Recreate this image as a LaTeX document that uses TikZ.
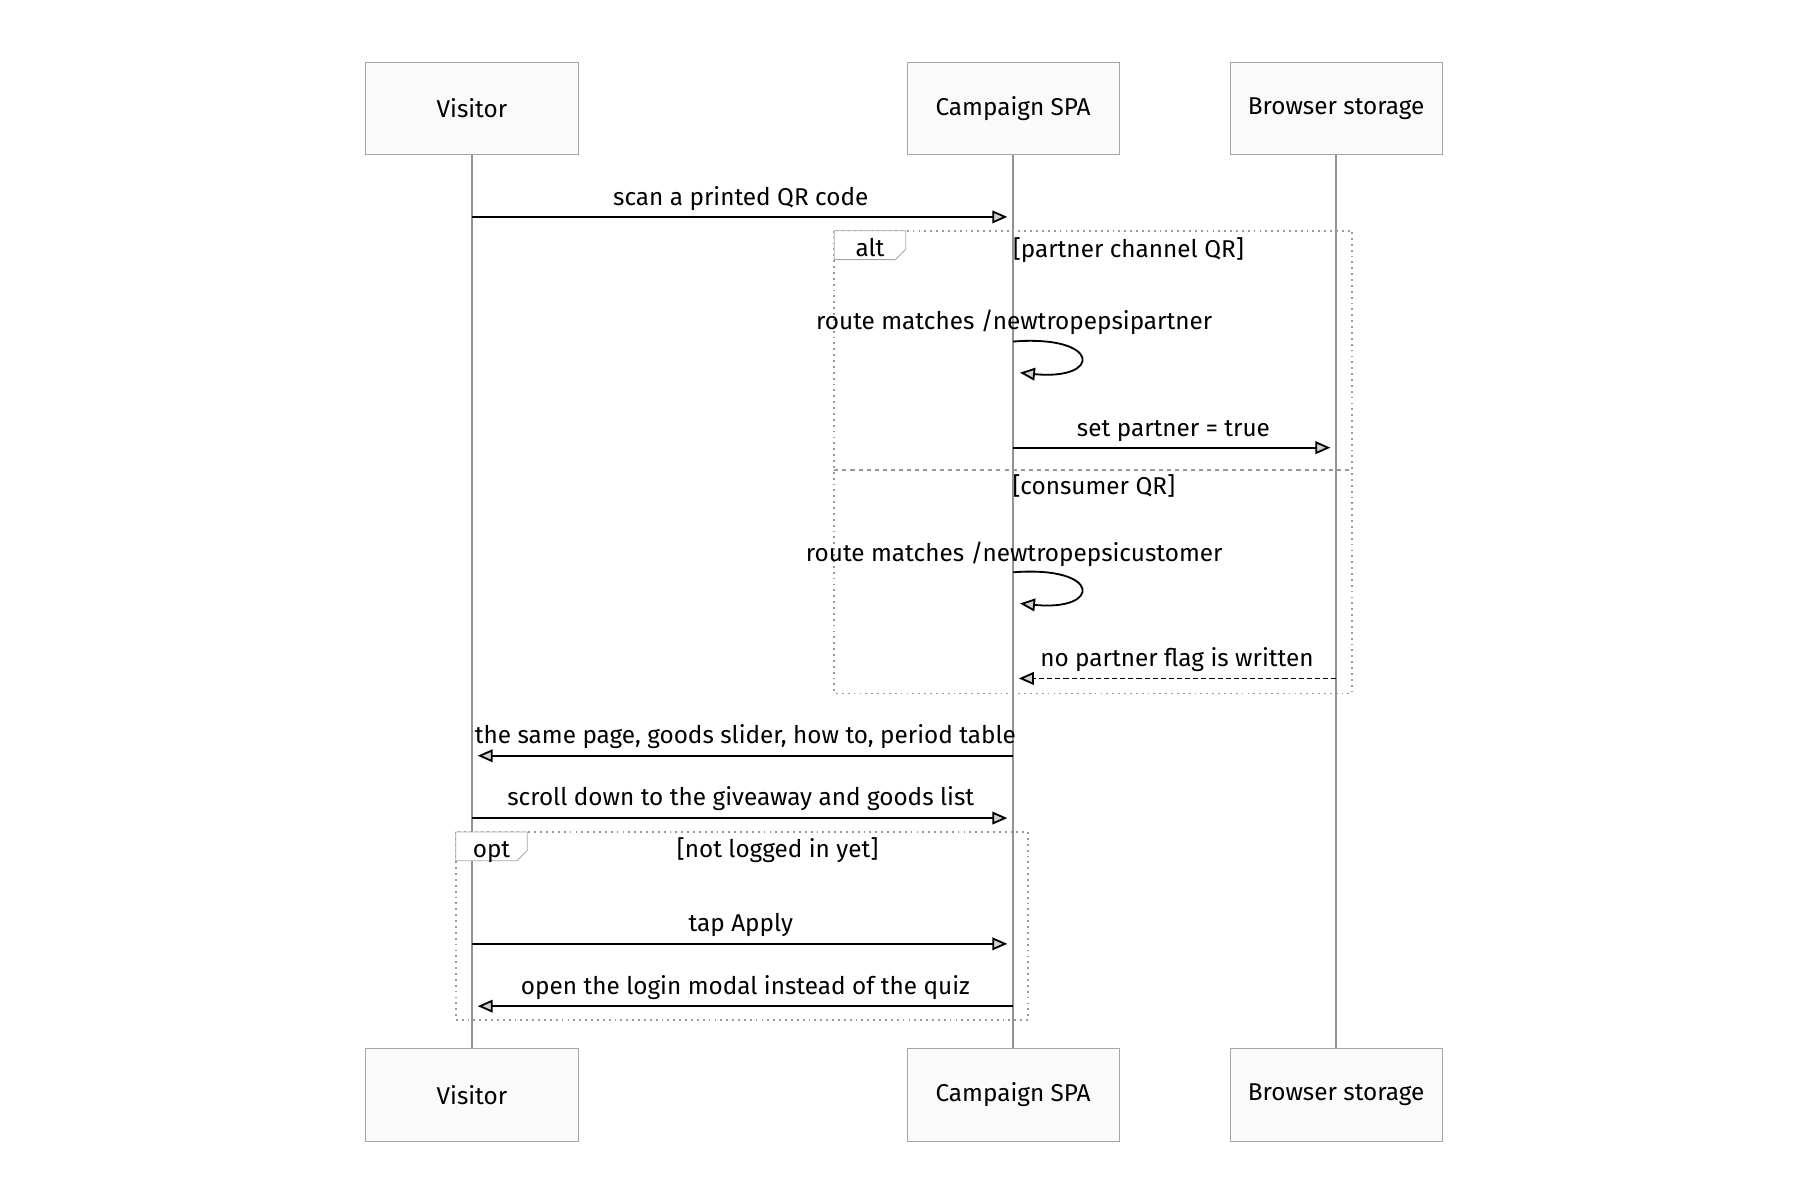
\documentclass[tikz,border=0pt]{standalone}
\usepackage{fontspec}
\setmainfont{Fira Sans}
\usetikzlibrary{arrows.meta}
\usetikzlibrary{positioning}

\tikzset{
  actor/.style={draw=gray!70,fill=gray!4,minimum width=3.68cm,minimum height=1.6cm,font=\fontsize{12}{14}\selectfont},
  life/.style={draw=gray!85,line width=1.2pt},
  msg/.style={line width=0.9pt,-{Triangle[open,length=0.26cm,width=0.22cm,fill=gray!35]}},
  reply/.style={msg,dash pattern=on 2.5pt off 1.5pt},
  lbl/.style={font=\fontsize{12}{14}\selectfont,anchor=base,inner sep=0pt},
  frame/.style={draw=gray!80,line width=0.9pt,dotted},
  tab/.style={draw=gray!70,fill=white}
}

\begin{document}
\begin{tikzpicture}[x=0.02cm,y=-0.02cm]
\useasboundingbox (0,0) rectangle (1560,1040);

% actors
\node[actor] (vis) at (409,94) {Visitor};
\node[actor] (spa) at (878,94) {Campaign SPA};
\node[actor] (sto) at (1158,94) {Browser storage};
\node[actor] (visB) at (409,949) {Visitor};
\node[actor] (spaB) at (878,949) {Campaign SPA};
\node[actor] (stoB) at (1158,949) {Browser storage};
\draw[life] (vis) -- (visB);
\draw[life] (spa) -- (spaB);
\draw[life] (sto) -- (stoB);

% frames
\draw[frame] (723,200) rectangle (1172,601);
\draw[frame,dash pattern=on 2pt off 2pt] (723,407) -- (1172,407);
\draw[tab] (723,200) -- (785,200) -- (785,216) -- (776,225) -- (723,225) -- cycle;
\node[lbl] at (754,222) {alt};
\node[lbl] at (978,223) {[partner channel QR]};
\node[lbl] at (948,429) {[consumer QR]};
\draw[frame] (395,721) rectangle (891,884);
\draw[tab] (395,721) -- (457,721) -- (457,737) -- (448,746) -- (395,746) -- cycle;
\node[lbl] at (426,743) {opt};
\node[lbl] at (674,743) {[not logged in yet]};

% messages
\coordinate (m1a) at (409,188); \coordinate (m1b) at (873,188);
\draw[msg] (m1a) -- (m1b);
\node[lbl] at (642,178) {scan a printed QR code};

\coordinate (l1a) at (878,296); \coordinate (l1b) at (884,323);
\draw[msg] (l1a) .. controls (955,290) and (955,330) .. (l1b);
\node[lbl] at (879,286) {route matches /newtropepsipartner};

\coordinate (m2a) at (878,388); \coordinate (m2b) at (1153,388);
\draw[msg] (m2a) -- (m2b);
\node[lbl] at (1017,378) {set partner = true};

\coordinate (l2a) at (878,496); \coordinate (l2b) at (884,523);
\draw[msg] (l2a) .. controls (955,490) and (955,530) .. (l2b);
\node[lbl] at (879,487) {route matches /newtropepsicustomer};

\coordinate (m3a) at (1158,588); \coordinate (m3b) at (883,588);
\draw[reply] (m3a) -- (m3b);
\node[lbl] at (1020,578) {no partner flag is written};

\coordinate (m4a) at (878,655); \coordinate (m4b) at (414,655);
\draw[msg] (m4a) -- (m4b);
\node[lbl] at (646,644) {the same page, goods slider, how to, period table};

\coordinate (m5a) at (409,709); \coordinate (m5b) at (873,709);
\draw[msg] (m5a) -- (m5b);
\node[lbl] at (642,698) {scroll down to the giveaway and goods list};

\coordinate (m6a) at (409,818); \coordinate (m6b) at (873,818);
\draw[msg] (m6a) -- (m6b);
\node[lbl] at (642,807) {tap Apply};

\coordinate (m7a) at (878,872); \coordinate (m7b) at (414,872);
\draw[msg] (m7a) -- (m7b);
\node[lbl] at (646,862) {open the login modal instead of the quiz};
\end{tikzpicture}
\end{document}
